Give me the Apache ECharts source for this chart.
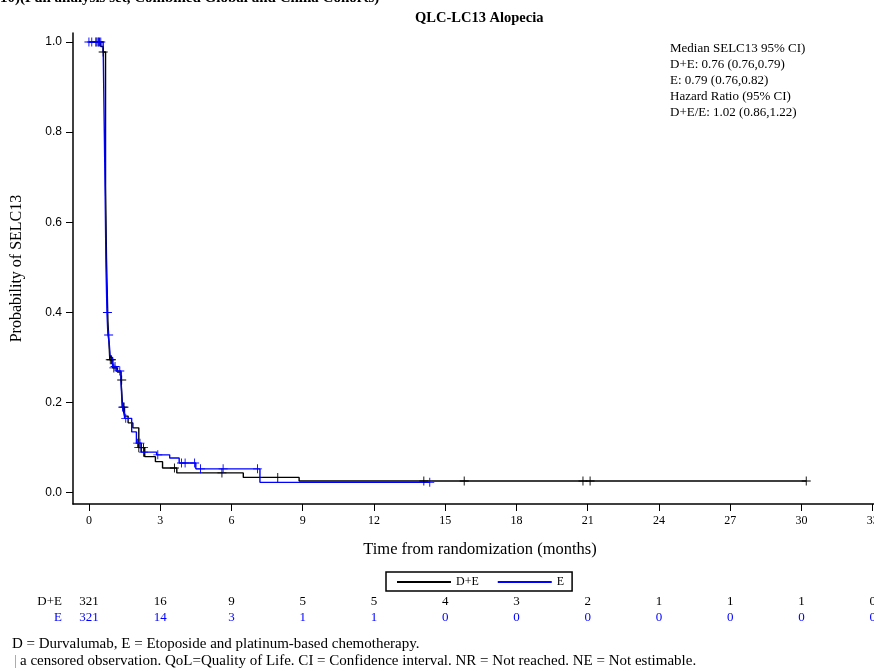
<!DOCTYPE html>
<html>
<head>
<meta charset="utf-8">
<script src="https://cdn.jsdelivr.net/npm/echarts@6/dist/echarts.min.js"></script>
<style>
  html, body { margin: 0; padding: 0; background: #fff; }
  #main { width: 874px; height: 671px; }
</style>
</head>
<body>
<div id="main"></div>
<script>
// Kaplan-Meier steps (time in months, probability)
var deTime = [0, 0.5, 0.6, 0.7, 0.74, 0.8, 0.88, 1.0, 1.2, 1.35, 1.42, 1.5, 1.65, 1.85, 2.1, 2.35, 2.8, 3.1, 3.7, 6.5, 8.85, 30.2];
var deSurv = [1.0, 0.99, 0.978, 0.68, 0.52, 0.38, 0.295, 0.277, 0.268, 0.25, 0.19, 0.17, 0.155, 0.144, 0.10, 0.08, 0.069, 0.055, 0.044, 0.034, 0.026, 0.026];
var eTime = [0, 0.6, 0.68, 0.72, 0.76, 0.8, 0.85, 0.9, 1.0, 1.15, 1.35, 1.4, 1.5, 1.8, 2.0, 2.2, 2.85, 3.4, 3.8, 4.5, 7.2, 14.35];
var eSurv = [1.0, 0.99, 0.68, 0.5, 0.4, 0.35, 0.335, 0.30, 0.28, 0.27, 0.25, 0.19, 0.165, 0.135, 0.11, 0.09, 0.084, 0.077, 0.066, 0.053, 0.023, 0.023];

// censored observations (months)
var deCensor = [0.3, 0.38, 0.45, 0.6, 0.9, 0.95, 1.05, 1.38, 1.45, 1.48, 2.1, 2.2, 2.3, 3.6, 5.6, 7.95, 14.1, 15.8, 20.8, 21.1, 30.2];
var eCensor = [0, 0.12, 0.3, 0.4, 0.5, 0.78, 0.83, 1.1, 1.3, 1.42, 1.55, 2.05, 2.15, 2.3, 2.9, 3.9, 4.05, 4.45, 4.7, 5.65, 7.1, 14.35];

// number at risk
var riskMonths = [0, 3, 6, 9, 12, 15, 18, 21, 24, 27, 30, 33];
var deRisk = [321, 16, 9, 5, 5, 4, 3, 2, 1, 1, 1, 0];
var eRisk = [321, 14, 3, 1, 1, 0, 0, 0, 0, 0, 0, 0];

var xTicks = [0, 3, 6, 9, 12, 15, 18, 21, 24, 27, 30, 33];
var yTicks = [0, 0.2, 0.4, 0.6, 0.8, 1.0];

var statLines = [
  'Median SELC13 95% CI)',
  'D+E: 0.76 (0.76,0.79)',
  'E: 0.79 (0.76,0.82)',
  'Hazard Ratio (95% CI)',
  'D+E/E: 1.02 (0.86,1.22)'
];

var BLUE = '#0000ff';
var SERIF = '"Liberation Serif", "DejaVu Serif", serif';

function zip(t, s) {
  return t.map(function (v, i) { return [v, s[i]]; });
}
function survAt(t, s, x) {
  var v = s[0];
  for (var i = 0; i < t.length; i++) { if (t[i] <= x) v = s[i]; }
  return v;
}
function censorPts(c, t, s) {
  return c.map(function (x) { return [x, survAt(t, s, x)]; });
}
function riskPts(vals, row) {
  return vals.map(function (v, i) { return [riskMonths[i], row, v]; });
}

var plus = 'path://M4.5,0h1v4.5h4.5v1h-4.5v4.5h-1v-4.5h-4.5v-1h4.5z';

var chart = echarts.init(document.getElementById('main'));
var option = {
  animation: false,
  backgroundColor: '#fff',
  textStyle: { fontFamily: SERIF },
  grid: [
    { left: 73, width: 814, top: 33, height: 471, outerBoundsMode: 'none', containLabel: false },
    { left: 73, width: 814, top: 594, height: 32, outerBoundsMode: 'none', containLabel: false }
  ],
  xAxis: [{
    type: 'value', min: -0.67, max: 33.6, gridIndex: 0,
    name: 'Time from randomization (months)', nameLocation: 'middle', nameGap: 37,
    nameTextStyle: { fontFamily: SERIF, fontSize: 16.5, color: '#000' },
    axisLine: { onZero: false, lineStyle: { color: '#000', width: 1.5 } },
    axisTick: { customValues: xTicks, length: 7, lineStyle: { color: '#000' } },
    axisLabel: { customValues: xTicks, fontFamily: SERIF, fontSize: 12, color: '#000', margin: 11 },
    splitLine: { show: false }
  }, {
    type: 'value', min: -0.67, max: 33.6, gridIndex: 1, show: false
  }],
  yAxis: [{
    type: 'value', min: -0.025, max: 1.02, gridIndex: 0,
    name: 'Probability of SELC13', nameLocation: 'middle', nameGap: 48,
    nameTextStyle: { fontFamily: SERIF, fontSize: 16, color: '#000' },
    axisLine: { show: true, onZero: false, lineStyle: { color: '#000', width: 1.5 } },
    axisTick: { show: true, customValues: yTicks, length: 7, lineStyle: { color: '#000' } },
    axisLabel: {
      customValues: yTicks, fontFamily: '"Liberation Sans", Arial, sans-serif', fontSize: 12, color: '#000', margin: 11,
      formatter: function (v) { return v.toFixed(1); }
    },
    splitLine: { show: false }
  }, {
    type: 'category', gridIndex: 1, data: ['E', 'D+E'],
    axisLine: { show: false }, axisTick: { show: false },
    axisLabel: {
      interval: 0, fontFamily: SERIF, fontSize: 13, margin: 11,
      color: function (v) { return v === 'E' ? BLUE : '#000'; }
    }
  }],
  legend: {
    left: 386, top: 572, orient: 'horizontal',
    data: ['D+E', 'E'],
    itemWidth: 54, itemHeight: 2, itemGap: 18,
    padding: [4, 8, 3, 10],
    borderColor: '#000', borderWidth: 1.5,
    textStyle: { fontFamily: SERIF, fontSize: 12, color: '#000' }
  },
  series: [
    {
      name: 'D+E', type: 'line', step: 'end', symbol: 'none',
      xAxisIndex: 0, yAxisIndex: 0,
      lineStyle: { color: '#000', width: 1.4 }, itemStyle: { color: '#000' },
      data: zip(deTime, deSurv), z: 3
    },
    {
      name: 'E', type: 'line', step: 'end', symbol: 'none',
      xAxisIndex: 0, yAxisIndex: 0,
      lineStyle: { color: BLUE, width: 1.4 }, itemStyle: { color: BLUE },
      data: zip(eTime, eSurv), z: 4
    },
    {
      name: 'D+E censored', type: 'scatter', symbol: plus, symbolSize: 9,
      xAxisIndex: 0, yAxisIndex: 0, itemStyle: { color: '#000', opacity: 1 },
      data: censorPts(deCensor, deTime, deSurv), z: 5
    },
    {
      name: 'E censored', type: 'scatter', symbol: plus, symbolSize: 9,
      xAxisIndex: 0, yAxisIndex: 0, itemStyle: { color: BLUE, opacity: 1 },
      data: censorPts(eCensor, eTime, eSurv), z: 6
    },
    {
      name: 'risk D+E', type: 'scatter', symbolSize: 0, xAxisIndex: 1, yAxisIndex: 1,
      itemStyle: { opacity: 1 },
      label: { show: true, position: 'inside', fontFamily: SERIF, fontSize: 13, color: '#000', opacity: 1,
        formatter: function (p) { return p.value[2]; } },
      data: riskPts(deRisk, 'D+E')
    },
    {
      name: 'risk E', type: 'scatter', symbolSize: 0, xAxisIndex: 1, yAxisIndex: 1,
      itemStyle: { opacity: 1 },
      label: { show: true, position: 'inside', fontFamily: SERIF, fontSize: 13, color: BLUE, opacity: 1,
        formatter: function (p) { return p.value[2]; } },
      data: riskPts(eRisk, 'E')
    }
  ],
  graphic: [
    { type: 'text', left: 0, top: -9, style: { text: '10)(Full analysis set, Combined Global and China Cohorts)', font: 'bold 15px ' + SERIF, fill: '#000' } },
    { type: 'text', left: 415, top: 11, style: { text: 'QLC-LC13 Alopecia', font: 'bold 14.5px ' + SERIF, fill: '#000' } },
    { type: 'text', left: 670, top: 41, style: { text: statLines.join('\n'), font: '13px ' + SERIF, lineHeight: 16, fill: '#000' } },
    { type: 'text', left: 12, top: 637, style: { text: 'D = Durvalumab, E = Etoposide and platinum-based chemotherapy.', font: '15px ' + SERIF, fill: '#000' } },
    { type: 'text', left: 14, top: 654, style: { text: '|', font: '15px ' + SERIF, fill: '#c08080' } },
    { type: 'text', left: 20, top: 654, style: { text: 'a censored observation. QoL=Quality of Life. CI = Confidence interval. NR = Not reached. NE = Not estimable.', font: '15px ' + SERIF, fill: '#000' } }
  ]
};
chart.setOption(option);
</script>
</body>
</html>
